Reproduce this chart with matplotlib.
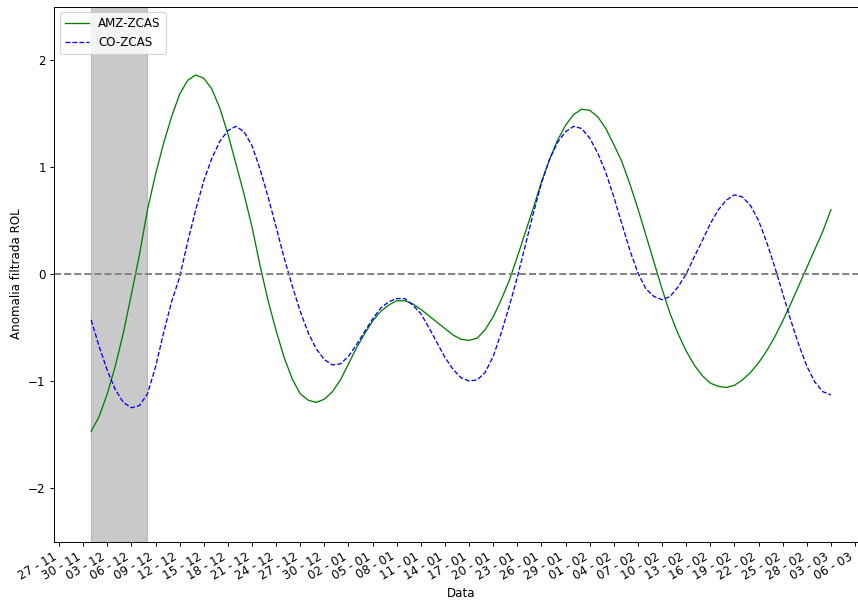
import matplotlib
matplotlib.use("Agg")
import matplotlib.pyplot as plt
import matplotlib.dates as mdates
import numpy as np
import pandas as pd

# Daily filtered OLR anomalies, 01-12 to 03-03
dates = pd.date_range("2021-12-01", "2022-03-03", freq="D")

amz_zcas = [
    -1.47, -1.33, -1.12, -0.86, -0.55, -0.19, 0.18, 0.60, 0.93, 1.22,
    1.47, 1.68, 1.81, 1.86, 1.83, 1.73, 1.55, 1.31, 1.03, 0.75,
    0.44, 0.08, -0.25, -0.53, -0.78, -0.98, -1.12, -1.18, -1.20, -1.17,
    -1.10, -0.99, -0.84, -0.69, -0.56, -0.44, -0.35, -0.29, -0.25, -0.25,
    -0.28, -0.33, -0.39, -0.45, -0.51, -0.57, -0.61, -0.62, -0.60, -0.52,
    -0.40, -0.24, -0.06, 0.16, 0.39, 0.62, 0.86, 1.07, 1.25, 1.39,
    1.49, 1.54, 1.53, 1.47, 1.36, 1.21, 1.05, 0.84, 0.61, 0.36,
    0.11, -0.14, -0.37, -0.56, -0.72, -0.85, -0.95, -1.02, -1.05, -1.06,
    -1.04, -0.99, -0.92, -0.83, -0.72, -0.59, -0.44, -0.28, -0.11, 0.06,
    0.23, 0.40, 0.60,
]

co_zcas = [
    -0.43, -0.68, -0.90, -1.08, -1.20, -1.25, -1.23, -1.12, -0.87, -0.55,
    -0.26, -0.03, 0.30, 0.60, 0.87, 1.08, 1.24, 1.34, 1.38, 1.33,
    1.20, 0.98, 0.72, 0.44, 0.15, -0.11, -0.35, -0.55, -0.70, -0.80,
    -0.85, -0.84, -0.77, -0.66, -0.54, -0.42, -0.32, -0.26, -0.23, -0.23,
    -0.29, -0.37, -0.50, -0.64, -0.78, -0.89, -0.97, -1.00, -0.99, -0.92,
    -0.77, -0.55, -0.30, -0.03, 0.27, 0.57, 0.85, 1.07, 1.23, 1.33,
    1.38, 1.36, 1.27, 1.13, 0.95, 0.72, 0.47, 0.22, 0.01, -0.14,
    -0.21, -0.24, -0.21, -0.12, 0.00, 0.16, 0.31, 0.47, 0.60, 0.69,
    0.74, 0.72, 0.64, 0.50, 0.30, 0.07, -0.18, -0.43, -0.66, -0.86,
    -1.01, -1.10, -1.13,
]

# Highlighted event window
event_start = pd.Timestamp("2021-12-01")
event_end = pd.Timestamp("2021-12-08")

# Tick dates every 3 days
tick_dates = pd.date_range("2021-11-27", "2022-03-06", freq="3D")

W, H = 858, 601
DPI = 85.8
fig = plt.figure(figsize=(W / DPI, H / DPI), dpi=DPI)
ax = fig.add_axes([54.2 / W, 1 - 541.5 / H, 813.7 / W, 535.0 / H])

ax.axvspan(event_start, event_end, color="gray", alpha=0.42)
ax.plot(dates, amz_zcas, color="green", linewidth=1.1, label="AMZ-ZCAS")
ax.plot(dates, co_zcas, color="blue", linestyle="--", linewidth=1.1, label="CO-ZCAS")
ax.axhline(0, color="gray", linestyle="--", linewidth=1.6)

ax.set_ylim(-2.5, 2.5)
ax.set_yticks([-2, -1, 0, 1, 2])
ax.set_yticklabels(["\u22122", "\u22121", "0", "1", "2"])
ax.set_xticks(tick_dates)
ax.xaxis.set_major_formatter(mdates.DateFormatter("%d - %m"))
for lbl in ax.get_xticklabels():
    lbl.set_rotation(30)
    lbl.set_ha("right")

ax.set_xlabel("Data")
ax.set_ylabel("Anomalia filtrada ROL")
ax.legend(loc="upper left")

fig.savefig("out.png", dpi=DPI)
